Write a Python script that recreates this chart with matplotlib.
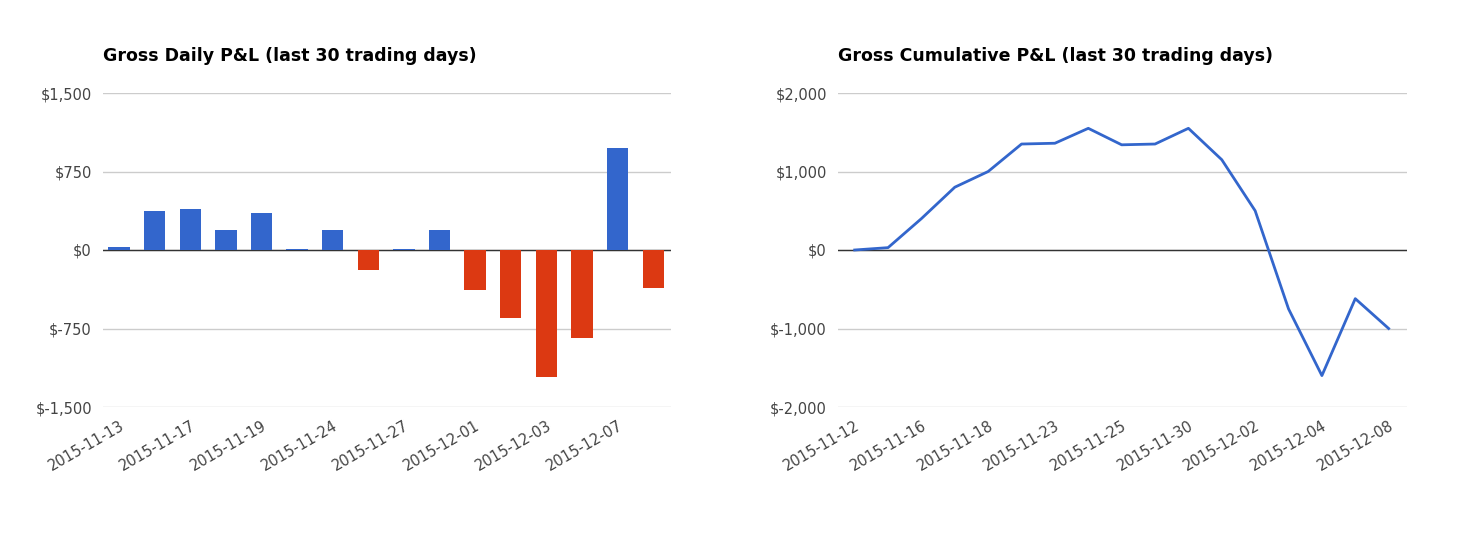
import matplotlib.pyplot as plt
from matplotlib.ticker import FuncFormatter

days = ["2015-11-13", "2015-11-16", "2015-11-17", "2015-11-18", "2015-11-19",
        "2015-11-23", "2015-11-24", "2015-11-25", "2015-11-27", "2015-11-30",
        "2015-12-01", "2015-12-02", "2015-12-03", "2015-12-04", "2015-12-07",
        "2015-12-08"]
daily_pnl = [25, 370, 390, 190, 350, 10, 190, -190, 8, 190,
             -380, -645, -1215, -845, 970, -360]

cum_days = ["2015-11-12"] + days
cum_pnl = [0, 30, 400, 800, 1000, 1350, 1360, 1550, 1340, 1350, 1550,
           1150, 500, -750, -1600, -620, -1000]

BLUE = "#3366cc"
RED = "#dc3912"
GRID = "#cccccc"
TXT = "#444444"


def money(v, _):
    return f"${v:,.0f}" if v >= 0 else f"$-{abs(v):,.0f}"


def style(ax, title):
    for s in ax.spines.values():
        s.set_visible(False)
    ax.grid(axis="y", color=GRID, linewidth=1)
    ax.set_axisbelow(True)
    ax.axhline(0, color="#333333", linewidth=1, zorder=1)
    ax.tick_params(length=0, colors=TXT, labelsize=10.5, pad=8)
    ax.yaxis.set_major_formatter(FuncFormatter(money))
    for lab in ax.get_xticklabels():
        lab.set_rotation(30)
        lab.set_ha("right")
        lab.set_rotation_mode("anchor")
    ax.text(0, 1.09, title, transform=ax.transAxes, fontsize=12.5,
            fontweight="bold", color="black", ha="left", va="bottom")


fig = plt.figure(figsize=(14.75, 5.35), dpi=100)

ax1 = fig.add_axes([103 / 1475, 1 - 407 / 535, 568 / 1475, 314 / 535])
x = range(len(days))
ax1.bar(x, daily_pnl, width=0.6,
        color=[BLUE if v >= 0 else RED for v in daily_pnl], zorder=2)
ax1.set_xlim(-0.45, len(days) - 0.5)
ax1.set_ylim(-1500, 1500)
ax1.set_yticks([-1500, -750, 0, 750, 1500])
ax1.set_xticks(list(x)[::2])
ax1.set_xticklabels(days[::2])
style(ax1, "Gross Daily P&L (last 30 trading days)")

ax2 = fig.add_axes([838 / 1475, 1 - 407 / 535, 569 / 1475, 314 / 535])
x2 = range(len(cum_days))
ax2.plot(x2, cum_pnl, color=BLUE, linewidth=2, zorder=3)
ax2.set_xlim(-0.5, len(cum_days) - 0.45)
ax2.set_ylim(-2000, 2000)
ax2.set_yticks([-2000, -1000, 0, 1000, 2000])
ax2.set_xticks(list(x2)[::2])
ax2.set_xticklabels(cum_days[::2])
style(ax2, "Gross Cumulative P&L (last 30 trading days)")

fig.savefig("out.png", dpi=100)
